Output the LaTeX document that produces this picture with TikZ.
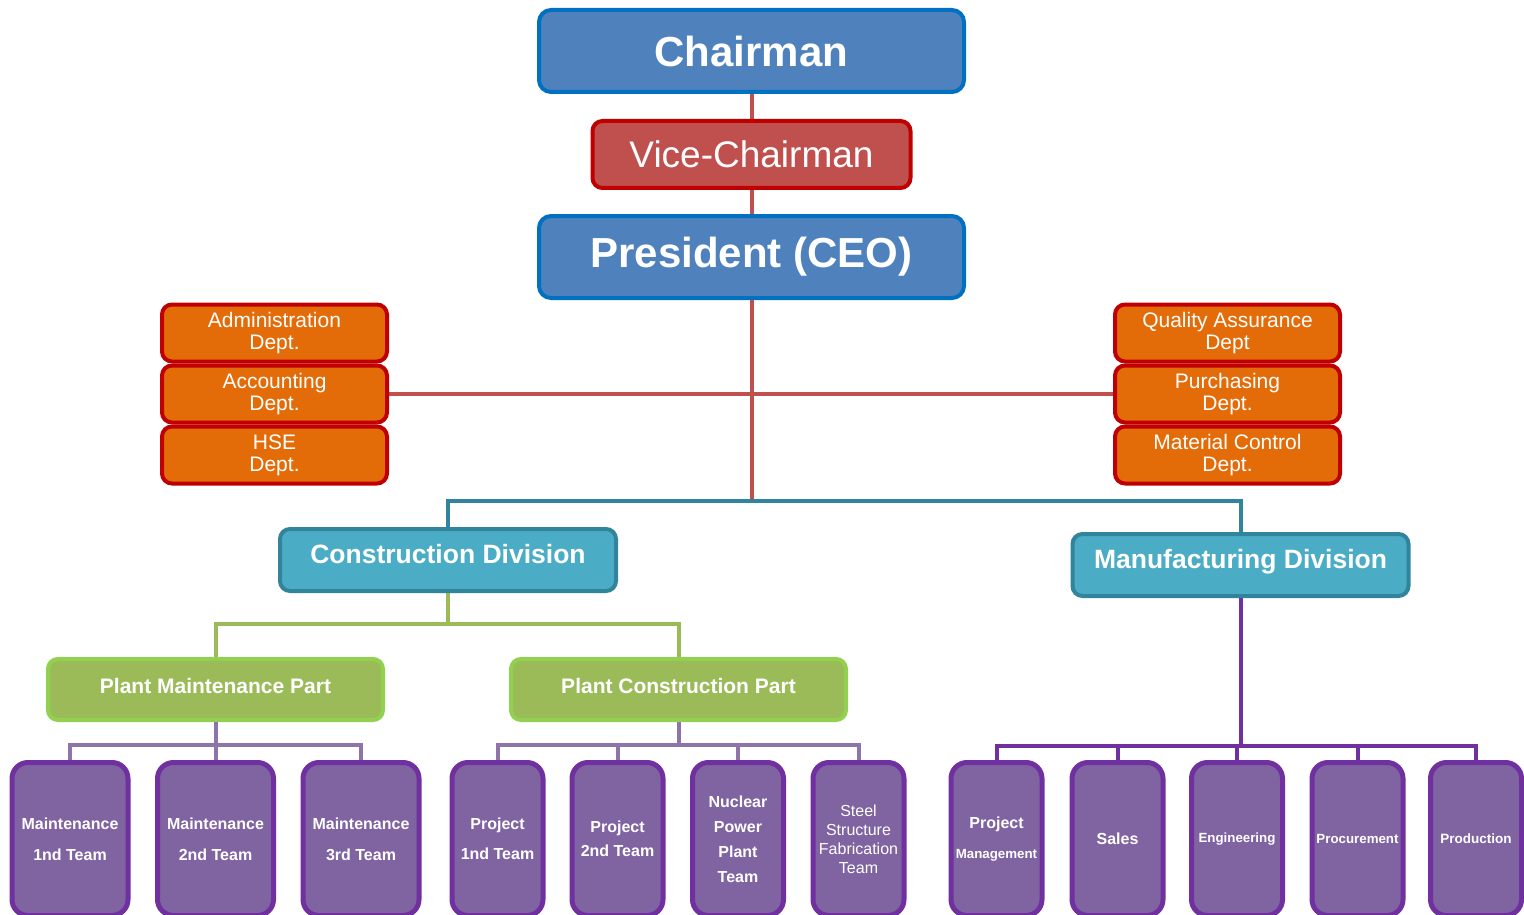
\documentclass[tikz,border=0pt]{standalone}
\usepackage{fontspec}
\setmainfont{Liberation Sans}
\usetikzlibrary{backgrounds}
\definecolor{topfill}{HTML}{4F81BD}
\definecolor{topline}{HTML}{0070C0}
\definecolor{vicefill}{HTML}{C0504D}
\definecolor{deptline}{HTML}{C00000}
\definecolor{deptfill}{HTML}{E36C09}
\definecolor{divfill}{HTML}{4BACC6}
\definecolor{divline}{HTML}{31849B}
\definecolor{partfill}{HTML}{9BBB59}
\definecolor{partline}{HTML}{92D050}
\definecolor{teamfill}{HTML}{8064A2}
\definecolor{teamline}{HTML}{7030A0}
\tikzset{
  box/.style={rectangle, rounded corners=10pt, text=white, align=center, inner sep=0pt},
  topbox/.style={box, rounded corners=12pt, draw=topline, fill=topfill, line width=4pt,
    minimum width=425pt, minimum height=82pt, font=\fontsize{42}{48}\selectfont\bfseries},
  vicebox/.style={box, draw=deptline, fill=vicefill, line width=4pt,
    minimum width=318pt, minimum height=67pt, font=\fontsize{37}{42}\selectfont},
  deptbox/.style={box, draw=deptline, fill=deptfill, line width=4pt,
    minimum width=225pt, minimum height=57pt, font=\fontsize{21}{22}\selectfont},
  divbox/.style={box, draw=divline, fill=divfill, line width=4pt,
    minimum width=336pt, minimum height=62pt, text height=19pt, text depth=12pt,
    font=\fontsize{26.5}{30}\selectfont\bfseries},
  partbox/.style={box, draw=partline, fill=partfill, line width=4pt,
    minimum width=335pt, minimum height=61pt, text height=15pt, text depth=8pt,
    font=\fontsize{21}{24}\selectfont\bfseries},
  teambox/.style={box, rounded corners=16pt, draw=teamline, fill=teamfill, line width=5pt,
    minimum width=91pt, minimum height=153pt, font=\fontsize{16}{31}\selectfont\bfseries},
  redline/.style={draw=vicefill, line width=4pt},
  tealline/.style={draw=divline, line width=4pt},
  greenline/.style={draw=partfill, line width=4pt},
  teamlink/.style={draw=teamfill!90!white, line width=4pt},
  mfglink/.style={draw=teamline, line width=4pt},
}
\begin{document}
\begin{tikzpicture}[x=1pt, y=-1pt]
  \useasboundingbox (0,0) rectangle (1524,915);
  \clip (0,0) rectangle (1524,915);
  % top
  \node[topbox] (chair) at (751.5,51) {Chairman};
  \node[vicebox] (vice) at (751.5,154.5) {Vice-Chairman};
  \node[topbox] (pres) at (751.5,257) {President (CEO)};
  % staff depts
  \node[deptbox] (admin) at (274.5,333) {Administration\\Dept.};
  \node[deptbox] (acct) at (274.5,394) {Accounting\\Dept.};
  \node[deptbox] (hse) at (274.5,455) {HSE\\Dept.};
  \node[deptbox] (qa) at (1227.5,333) {Quality Assurance\\Dept};
  \node[deptbox] (purch) at (1227.5,394) {Purchasing\\Dept.};
  \node[deptbox] (matl) at (1227.5,455) {Material Control\\Dept.};
  % divisions and parts
  \node[divbox] (cons) at (448,560) {Construction Division};
  \node[divbox] (manu) at (1240.5,565) {Manufacturing Division};
  \node[partbox] (pmp) at (215.5,689.5) {Plant Maintenance Part};
  \node[partbox] (pcp) at (678.5,689.5) {Plant Construction Part};
  % teams
  \node[teambox, minimum width=116pt] (mt1) at (70,839) {Maintenance\\1nd Team};
  \node[teambox, minimum width=116pt] (mt2) at (215.5,839) {Maintenance\\2nd Team};
  \node[teambox, minimum width=116pt] (mt3) at (361,839) {Maintenance\\3rd Team};
  \node[teambox, font=\fontsize{16}{30}\selectfont\bfseries] (pj1) at (497.5,839) {Project\\1nd Team};
  \node[teambox, font=\fontsize{16}{24}\selectfont\bfseries] (pj2) at (617.5,839) {Project\\2nd Team};
  \node[teambox, font=\fontsize{16}{25}\selectfont\bfseries] (npp) at (738,839) {Nuclear\\Power\\Plant\\Team};
  \node[teambox, font=\fontsize{16}{19}\selectfont] (ssf) at (858.5,839) {Steel\\Structure\\Fabrication\\Team};
  \node[teambox, font=\fontsize{16}{30}\selectfont\bfseries] (pjm) at (996.5,839) {Project\\{\fontsize{13.3}{30}\selectfont Management}};
  \node[teambox] (sales) at (1117.5,839) {Sales};
  \node[teambox, font=\fontsize{13.3}{16}\selectfont\bfseries] (eng) at (1237,839) {Engineering};
  \node[teambox, font=\fontsize{13.3}{16}\selectfont\bfseries] (proc) at (1357.5,839) {Procurement};
  \node[teambox, font=\fontsize{13.5}{16}\selectfont\bfseries] (prod) at (1476,839) {Production};
  % connectors
  \begin{scope}[on background layer]
    \coordinate (split) at (751.5,501);
    \draw[redline] (chair) -- (vice) -- (pres) -- (split);
    \draw[redline] (acct) -- (purch);
    \draw[tealline] (cons) |- (split) -| (manu);
    \draw[greenline] (cons.south) -- ++(0,31) coordinate (csplit);
    \draw[greenline] (pmp) |- (csplit) -| (pcp);
    \draw[teamlink] (pmp.south) -- ++(0,23) coordinate (msplit);
    \draw[teamlink] (mt1) |- (msplit) -| (mt3);
    \draw[teamlink] (mt2) -- (msplit);
    \draw[teamlink] (pcp.south) -- ++(0,23) coordinate (psplit);
    \draw[teamlink] (pj1) |- (psplit) -| (ssf);
    \draw[teamlink] (pj2) |- (psplit);
    \draw[teamlink] (npp) |- (psplit);
    \draw[mfglink] (manu.south) -- ++(0,148) coordinate (fsplit);
    \draw[mfglink] (pjm) |- (fsplit) -| (prod);
    \draw[mfglink] (sales) |- (fsplit);
    \draw[mfglink] (eng) |- (fsplit);
    \draw[mfglink] (proc) |- (fsplit);
  \end{scope}
\end{tikzpicture}
\end{document}
